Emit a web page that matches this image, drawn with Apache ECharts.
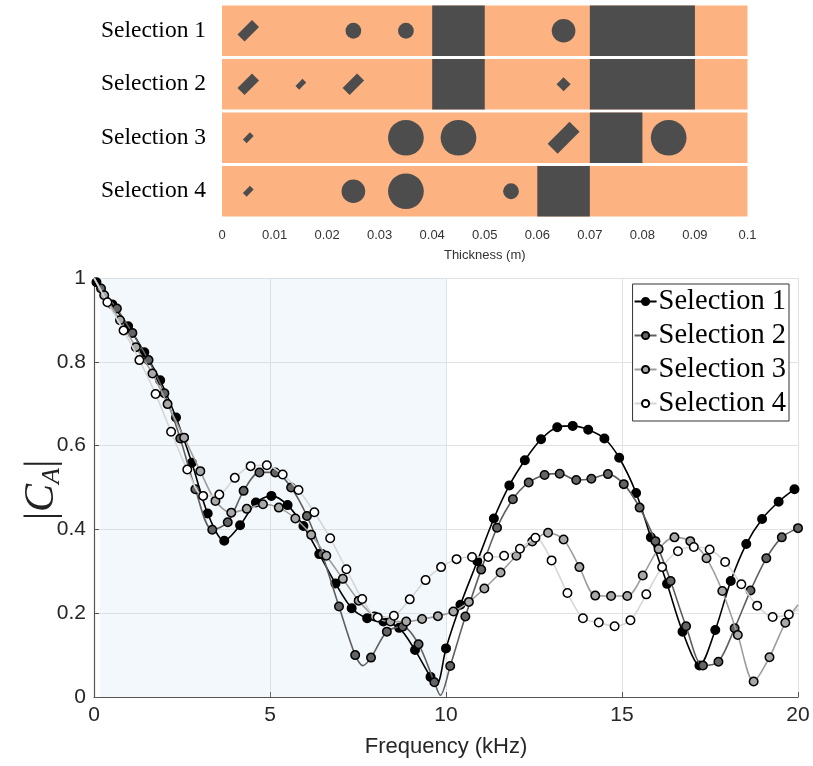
<!DOCTYPE html>
<html><head><meta charset="utf-8">
<script src="https://cdn.jsdelivr.net/npm/echarts@6/dist/echarts.min.js"></script>
<style>html,body{margin:0;padding:0;background:#fff}#c{width:813px;height:766px}</style>
</head><body><div id="c"></div>
<script>
// ---------- top panel data ----------
const bandRows = ['Selection 1', 'Selection 2', 'Selection 3', 'Selection 4'];
const thicknessTicks = [0, 0.01, 0.02, 0.03, 0.04, 0.05, 0.06, 0.07, 0.08, 0.09, 0.1];
// [row, start (m), end (m)]
const layers = [[0, 0.04, 0.05], [0, 0.07, 0.09], [1, 0.04, 0.05], [1, 0.07, 0.09], [2, 0.07, 0.08], [3, 0.06, 0.07]];
// [row, centre (m), radius (m)]
const circles = [[0, 0.025, 0.0015], [0, 0.035, 0.0015], [0, 0.065, 0.00225],
  [2, 0.035, 0.0034], [2, 0.045, 0.0034], [2, 0.085, 0.0034],
  [3, 0.025, 0.00225], [3, 0.035, 0.0034], [3, 0.055, 0.0015]];
// [row, centre (m), length (m), width (m)]
const diamonds = [[0, 0.005, 0.0039, 0.0019], [1, 0.005, 0.0039, 0.0019], [1, 0.015, 0.0019, 0.001],
  [1, 0.025, 0.0039, 0.0019], [1, 0.065, 0.0019, 0.0019], [2, 0.005, 0.0019, 0.001],
  [2, 0.065, 0.0059, 0.0027], [3, 0.005, 0.0019, 0.001]];

// ---------- bottom panel data ----------
const seriesNames = ['Selection 1', 'Selection 2', 'Selection 3', 'Selection 4'];
const s1Marks = [[0.07,0.99],[0.52,0.937],[0.97,0.885],[1.43,0.823],[1.88,0.756],[2.33,0.667],[2.78,0.559],[3.23,0.438],[3.70,0.373],[4.15,0.41],[4.60,0.464],[5.04,0.48],[5.50,0.458],[5.95,0.408],[6.40,0.341],[6.86,0.271],[7.32,0.212],[7.76,0.188],[8.22,0.18],[8.67,0.165],[9.12,0.112],[9.56,0.048],[10.0,0.116],[10.41,0.22],[10.89,0.324],[11.36,0.426],[11.80,0.505],[12.24,0.565],[12.70,0.615],[13.16,0.644],[13.60,0.647],[14.04,0.638],[14.50,0.617],[14.92,0.571],[15.40,0.487],[15.82,0.381],[16.28,0.27],[16.72,0.156],[17.20,0.075],[17.65,0.16],[18.09,0.277],[18.53,0.365],[18.98,0.425],[19.45,0.466],[19.90,0.496]];
const s1Curve = [[0, 1.0], [9.74, 0.03], [20, 0.5]];
const s2Marks = [[0.20,0.975],[0.65,0.927],[1.09,0.869],[1.55,0.804],[2.00,0.725],[2.45,0.617],[2.88,0.496],[3.36,0.399],[3.80,0.417],[4.25,0.492],[4.70,0.536],[5.15,0.536],[5.60,0.5],[6.05,0.432],[6.48,0.341],[6.96,0.216],[7.42,0.1],[7.87,0.094],[8.32,0.156],[8.77,0.168],[9.22,0.126],[9.67,0.035],[10.12,0.074],[10.55,0.192],[11.00,0.304],[11.45,0.404],[11.90,0.472],[12.35,0.512],[12.80,0.53],[13.23,0.533],[13.70,0.518],[14.13,0.521],[14.60,0.532],[15.05,0.508],[15.50,0.452],[15.95,0.372],[16.38,0.277],[16.82,0.169],[17.30,0.075],[17.74,0.084],[18.20,0.164],[18.65,0.254],[19.10,0.331],[19.54,0.381],[20.0,0.403]];
const s2Curve = [[0, 1.0], [7.64, 0.075], [9.84, 0.004]];
const s3Marks = [[0.29,0.959],[0.74,0.899],[1.19,0.835],[1.66,0.772],[2.09,0.699],[2.56,0.619],[3.02,0.539],[3.45,0.468],[3.90,0.44],[4.34,0.449],[4.80,0.46],[5.25,0.452],[5.72,0.426],[6.17,0.387],[6.60,0.337],[7.07,0.282],[7.52,0.23],[7.97,0.192],[8.42,0.18],[8.87,0.18],[9.32,0.186],[9.77,0.193],[10.21,0.204],[10.65,0.227],[11.09,0.259],[11.55,0.297],[12.00,0.337],[12.45,0.371],[12.90,0.392],[13.34,0.376],[13.79,0.31],[14.24,0.242],[14.69,0.241],[15.15,0.241],[15.59,0.29],[16.04,0.353],[16.49,0.381],[16.94,0.372],[17.40,0.331],[17.85,0.253],[18.29,0.148],[18.74,0.037],[19.19,0.095],[19.64,0.177]];
const s3Curve = [[0, 1.0], [20, 0.22]];
const s4Marks = [[0.38,0.942],[0.84,0.875],[1.29,0.804],[1.75,0.723],[2.19,0.633],[2.65,0.543],[3.10,0.48],[3.56,0.483],[4.00,0.523],[4.45,0.551],[4.91,0.553],[5.36,0.531],[5.81,0.494],[6.26,0.441],[6.71,0.379],[7.17,0.305],[7.62,0.234],[8.06,0.19],[8.52,0.194],[8.97,0.233],[9.42,0.279],[9.86,0.31],[10.30,0.329],[10.74,0.334],[11.20,0.334],[11.65,0.337],[12.10,0.354],[12.54,0.38],[13.00,0.326],[13.45,0.248],[13.89,0.188],[14.34,0.178],[14.79,0.169],[15.24,0.183],[15.69,0.245],[16.14,0.31],[16.59,0.348],[17.04,0.358],[17.49,0.352],[17.93,0.322],[18.39,0.269],[18.84,0.218],[19.28,0.191],[19.74,0.197]];
const s4Curve = [[0, 1.0], [20, 0.21]];
const shadedBand = [0.17, 10];

// ---------- styles ----------
const ORANGE = '#fdb381', DARK = '#4d4d4d';
const lineColors = ['#000000', '#5f5f5f', '#9d9d9d', '#d6d6d6'];
const fillColors = ['#000000', '#646464', '#a8a8a8', '#ffffff'];

function build(marks, curve) {
  return marks.map(p => ({ value: p }))
    .concat(curve.map(p => ({ value: p, symbol: 'none' })))
    .sort((a, b) => a.value[0] - b.value[0]);
}
const allData = [build(s1Marks, s1Curve), build(s2Marks, s2Curve), build(s3Marks, s3Curve), build(s4Marks, s4Curve)];

const chart = echarts.init(document.getElementById('c'), null, { renderer: 'canvas' });

function bandItem(params, api) {
  const row = api.value(0);
  const p0 = api.coord([0, row]), p1 = api.coord([0.1, row]);
  const h = api.size([0, 1])[1];
  return { type: 'rect', shape: { x: p0[0], y: p0[1] - h / 2 + 1.5, width: p1[0] - p0[0], height: h - 3 }, style: { fill: ORANGE } };
}
function layerItem(params, api) {
  const row = api.value(0);
  const p0 = api.coord([api.value(1), row]), p1 = api.coord([api.value(2), row]);
  const h = api.size([0, 1])[1];
  return { type: 'rect', shape: { x: p0[0], y: p0[1] - h / 2 + 1.5, width: p1[0] - p0[0], height: h - 3 }, style: { fill: DARK } };
}
function circleItem(params, api) {
  const c = api.coord([api.value(1), api.value(0)]);
  const r = api.size([api.value(2), 0])[0];
  return { type: 'circle', shape: { cx: c[0], cy: c[1], r: r }, style: { fill: DARK } };
}
function diamondItem(params, api) {
  const c = api.coord([api.value(1), api.value(0)]);
  const L = api.size([api.value(2), 0])[0], W = api.size([api.value(3), 0])[0];
  return { type: 'rect', x: c[0], y: c[1], rotation: Math.PI / 4,
    shape: { x: -L / 2, y: -W / 2, width: L, height: W }, style: { fill: DARK } };
}

const lineSeries = seriesNames.map((name, i) => {
  const s = {
    name: name, type: 'line', xAxisIndex: 1, yAxisIndex: 1,
    data: allData[i], smooth: 0.3, symbol: 'circle', symbolSize: 8.5,
    showAllSymbol: true,
    lineStyle: { color: lineColors[i], width: 1.6 },
    itemStyle: { color: fillColors[i], borderColor: '#000', borderWidth: 1.5 },
    emphasis: { disabled: true }, z: 3 + i
  };
  if (i === 0) {
    s.markArea = { silent: true, itemStyle: { color: 'rgba(190,215,240,0.18)' },
      data: [[{ xAxis: shadedBand[0] }, { xAxis: shadedBand[1] }]] };
  }
  return s;
});

const option = {
  animation: false,
  backgroundColor: '#fff',
  grid: [
    { left: 222, top: 4, width: 525.5, height: 214 },
    { left: 94, right: 15, top: 278, bottom: 69 }
  ],
  xAxis: [
    { gridIndex: 0, type: 'value', min: 0, max: 0.1, interval: 0.01,
      axisLine: { lineStyle: { color: '#9a9a9a' } },
      axisTick: { length: 5, lineStyle: { color: '#9a9a9a' } },
      splitLine: { show: false },
      axisLabel: { fontFamily: 'Liberation Sans', fontSize: 13, color: '#333', margin: 11,
        formatter: v => { const t = thicknessTicks.find(x => Math.abs(x - v) < 1e-9); return t === 0 ? '0' : (t === 0.1 ? '0.1' : t.toFixed(2)); } },
      name: 'Thickness (m)', nameLocation: 'middle', nameGap: 31,
      nameTextStyle: { fontFamily: 'Liberation Sans', fontSize: 13, color: '#333' } },
    { gridIndex: 1, type: 'value', min: 0, max: 20, interval: 5,
      axisLine: { lineStyle: { color: '#555', width: 1.2 } },
      axisTick: { inside: true, length: 5, lineStyle: { color: '#555' } },
      splitLine: { show: true, lineStyle: { color: '#e2e2e2', width: 1 } },
      axisLabel: { fontFamily: 'Liberation Sans', fontSize: 21, color: '#262626', margin: 8 },
      name: 'Frequency (kHz)', nameLocation: 'middle', nameGap: 39,
      nameTextStyle: { fontFamily: 'Liberation Sans', fontSize: 22, color: '#262626' } }
  ],
  yAxis: [
    { gridIndex: 0, type: 'category', data: bandRows, inverse: true,
      axisLine: { show: false }, axisTick: { show: false }, splitLine: { show: false },
      axisLabel: { fontFamily: 'Liberation Serif', fontSize: 23.5, color: '#000', margin: 16 } },
    { gridIndex: 1, type: 'value', min: 0, max: 1, interval: 0.2,
      axisLine: { show: true, lineStyle: { color: '#555', width: 1.2 } },
      axisTick: { show: true, inside: true, length: 5, lineStyle: { color: '#555' } },
      splitLine: { show: true, lineStyle: { color: '#e2e2e2', width: 1 } },
      axisLabel: { fontFamily: 'Liberation Sans', fontSize: 21, color: '#262626', margin: 8,
        formatter: v => (v === 0 ? '0' : v === 1 ? '1' : v.toFixed(1)) } }
  ],
  legend: {
    data: seriesNames, orient: 'vertical', right: 24, top: 284,
    backgroundColor: '#fff', borderColor: '#333', borderWidth: 1,
    padding: [3, 3, 3, 1], itemGap: 5, itemWidth: 22, itemHeight: 9,
    textStyle: { fontFamily: 'Liberation Serif', fontSize: 28.5, color: '#000', padding: [0, 0, 0, -3] }
  },
  graphic: [{
    type: 'text', x: 42, y: 490, rotation: Math.PI / 2,
    style: {
      text: '{b||}{c|C}{s|A}{b||}', align: 'center', verticalAlign: 'middle',
      rich: {
        b: { fontFamily: 'Liberation Serif', fontSize: 42, fill: '#222', lineHeight: 46, verticalAlign: 'middle' },
        c: { fontFamily: 'Liberation Serif', fontStyle: 'italic', fontSize: 42, fill: '#222', lineHeight: 46, verticalAlign: 'middle' },
        s: { fontFamily: 'Liberation Serif', fontStyle: 'italic', fontSize: 26, fill: '#222', lineHeight: 46, verticalAlign: 'bottom' }
      }
    }
  }],
  series: [
    { type: 'custom', xAxisIndex: 0, yAxisIndex: 0, renderItem: bandItem, silent: true,
      encode: { x: 1, y: 0 }, data: bandRows.map((_, i) => [i, 0]), z: 1 },
    { type: 'custom', xAxisIndex: 0, yAxisIndex: 0, renderItem: layerItem, silent: true,
      encode: { x: [1, 2], y: 0 }, data: layers, z: 2 },
    { type: 'custom', xAxisIndex: 0, yAxisIndex: 0, renderItem: circleItem, silent: true,
      encode: { x: 1, y: 0 }, data: circles, z: 3 },
    { type: 'custom', xAxisIndex: 0, yAxisIndex: 0, renderItem: diamondItem, silent: true,
      encode: { x: 1, y: 0 }, data: diamonds, z: 3 }
  ].concat(lineSeries)
};
chart.setOption(option);
</script></body></html>
